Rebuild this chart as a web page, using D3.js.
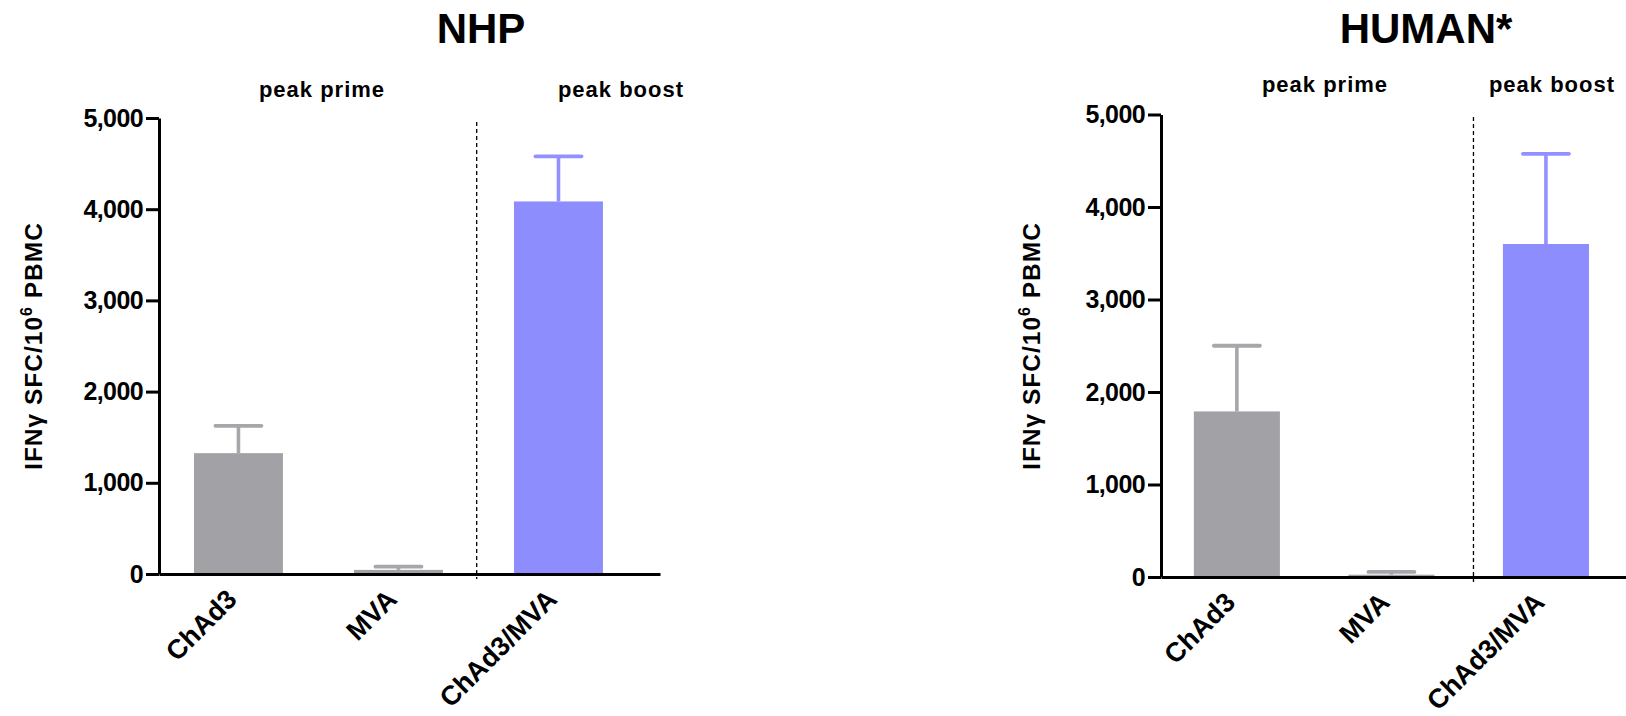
<!DOCTYPE html>
<html>
<head>
<meta charset="utf-8">
<script src="https://cdn.jsdelivr.net/npm/d3@7/dist/d3.min.js"></script>
<style>
  html, body { margin: 0; padding: 0; background: #ffffff; }
  svg { display: block; font-family: "Liberation Sans", Arial, Helvetica, sans-serif; }
  .axis path, .axis line { stroke: #000; stroke-width: 3; }
  .axis text { fill: #000; font-weight: bold; }
</style>
</head>
<body>
<script>
// Vaccine groups shown on the x axis of each panel
const categories = ["ChAd3", "MVA", "ChAd3/MVA"];

// Mean IFNγ SFC per 10^6 PBMC and the upper end of the error bar (mean + SEM)
const nhpMeans   = [1325, 45, 4085];
const nhpUpper   = [1625, 80, 4580];
const humanMeans = [1790, 25, 3600];
const humanUpper = [2500, 55, 4575];

// Y axis ticks shared by both panels
const yTicks = [0, 1000, 2000, 3000, 4000, 5000];

// Panel titles and the two time-point headers
const panelTitles = ["NHP", "HUMAN*"];
const sectionLabels = ["peak prime", "peak boost"];

// Fill colours: prime-only groups in grey, prime/boost in blue
const barColors = ["#a2a1a6", "#a2a1a6", "#8e8dfe"];
const errColors = ["#a7a7ab", "#a7a7ab", "#9291ff"];

const W = 1626, H = 716;
const svg = d3.select("body").append("svg")
  .attr("width", W).attr("height", H);

// Placement of each panel on the page
const panels = [
  { title: panelTitles[0], means: nhpMeans, upper: nhpUpper,
    x0: 159, x1: 660, yBottom: 574, yTop: 118,
    padInner: 0.444, padOuter: 0.2875, align: 0.38, divFrac: 0.475,
    titleX: 481, primeX: 322, boostX: 621, peakY: 97,
    yLabelX: 42, yLabelY: 346, dashTop: 122 },
  { title: panelTitles[1], means: humanMeans, upper: humanUpper,
    x0: 1161, x1: 1626, yBottom: 577, yTop: 114.5,
    padInner: 0.443, padOuter: 0.226, align: 0.47, divFrac: 0.57,
    titleX: 1426, primeX: 1325, boostX: 1552, peakY: 92,
    yLabelX: 1040, yLabelY: 346, dashTop: 117 }
];

panels.forEach(p => {
  const g = svg.append("g");

  const x = d3.scaleBand()
    .domain(categories)
    .range([p.x0, p.x1])
    .paddingInner(p.padInner)
    .paddingOuter(p.padOuter)
    .align(p.align);

  const y = d3.scaleLinear()
    .domain([0, 5000])
    .range([p.yBottom, p.yTop]);

  // bars
  g.selectAll("rect.bar")
    .data(categories)
    .join("rect")
    .attr("class", "bar")
    .attr("x", d => x(d))
    .attr("width", x.bandwidth())
    .attr("y", (d, i) => y(p.means[i]))
    .attr("height", (d, i) => y(0) - y(p.means[i]))
    .attr("fill", (d, i) => barColors[i]);

  // upward error bars: stem + cap
  const capHalf = 23;
  const eb = g.selectAll("g.err")
    .data(categories)
    .join("g")
    .attr("class", "err");
  eb.append("line")
    .attr("x1", d => x(d) + x.bandwidth() / 2)
    .attr("x2", d => x(d) + x.bandwidth() / 2)
    .attr("y1", (d, i) => y(p.means[i]))
    .attr("y2", (d, i) => y(p.upper[i]))
    .attr("stroke", (d, i) => errColors[i])
    .attr("stroke-width", 3.6);
  eb.append("line")
    .attr("x1", d => x(d) + x.bandwidth() / 2 - capHalf)
    .attr("x2", d => x(d) + x.bandwidth() / 2 + capHalf)
    .attr("y1", (d, i) => y(p.upper[i]))
    .attr("y2", (d, i) => y(p.upper[i]))
    .attr("stroke", (d, i) => errColors[i])
    .attr("stroke-width", 3.8)
    .attr("stroke-linecap", "round");

  // dotted divider between prime and boost groups
  const gapStart = x(categories[1]) + x.bandwidth();
  const gapEnd = x(categories[2]);
  const divX = gapStart + (gapEnd - gapStart) * p.divFrac;
  g.append("line")
    .attr("x1", divX).attr("x2", divX)
    .attr("y1", p.dashTop).attr("y2", p.yBottom + 5)
    .attr("stroke", "#000")
    .attr("stroke-width", 1.3)
    .attr("stroke-dasharray", "4,3");

  // y axis
  const yAxis = g.append("g")
    .attr("class", "axis")
    .attr("transform", `translate(${p.x0},0)`)
    .call(d3.axisLeft(y)
      .tickValues(yTicks)
      .tickFormat(d3.format(","))
      .tickSize(13)
      .tickSizeOuter(0)
      .tickPadding(3));
  yAxis.selectAll("text")
    .attr("font-size", 25)
    .attr("letter-spacing", "-0.6px");

  // x axis with rotated group labels
  const xAxis = g.append("g")
    .attr("class", "axis")
    .attr("transform", `translate(0,${p.yBottom})`)
    .call(d3.axisBottom(x).tickSize(0).tickSizeOuter(0));
  xAxis.selectAll(".tick text")
    .attr("x", 0).attr("y", 0).attr("dy", 0)
    .attr("font-size", 27)
    .attr("text-anchor", "end")
    .attr("transform", "translate(0,27) rotate(-45)");

  // panel title
  g.append("text")
    .attr("x", p.titleX).attr("y", 43)
    .attr("text-anchor", "middle")
    .attr("font-size", 42)
    .attr("font-weight", "bold")
    .text(p.title);

  // time-point headers
  g.append("text")
    .attr("x", p.primeX).attr("y", p.peakY)
    .attr("text-anchor", "middle")
    .attr("font-size", 22)
    .attr("font-weight", "bold")
    .attr("letter-spacing", "1px")
    .text(sectionLabels[0]);
  g.append("text")
    .attr("x", p.boostX).attr("y", p.peakY)
    .attr("text-anchor", "middle")
    .attr("font-size", 22)
    .attr("font-weight", "bold")
    .attr("letter-spacing", "1px")
    .text(sectionLabels[1]);

  // y axis title with superscript
  const yl = g.append("text")
    .attr("transform", `translate(${p.yLabelX},${p.yLabelY}) rotate(-90)`)
    .attr("text-anchor", "middle")
    .attr("font-size", 24.5)
    .attr("font-weight", "bold")
    .attr("letter-spacing", "1px");
  yl.append("tspan").text("IFNγ SFC/10");
  yl.append("tspan").attr("font-size", 16).attr("dy", -10).text("6");
  yl.append("tspan").attr("dy", 10).text(" PBMC");
});
</script>
</body>
</html>
